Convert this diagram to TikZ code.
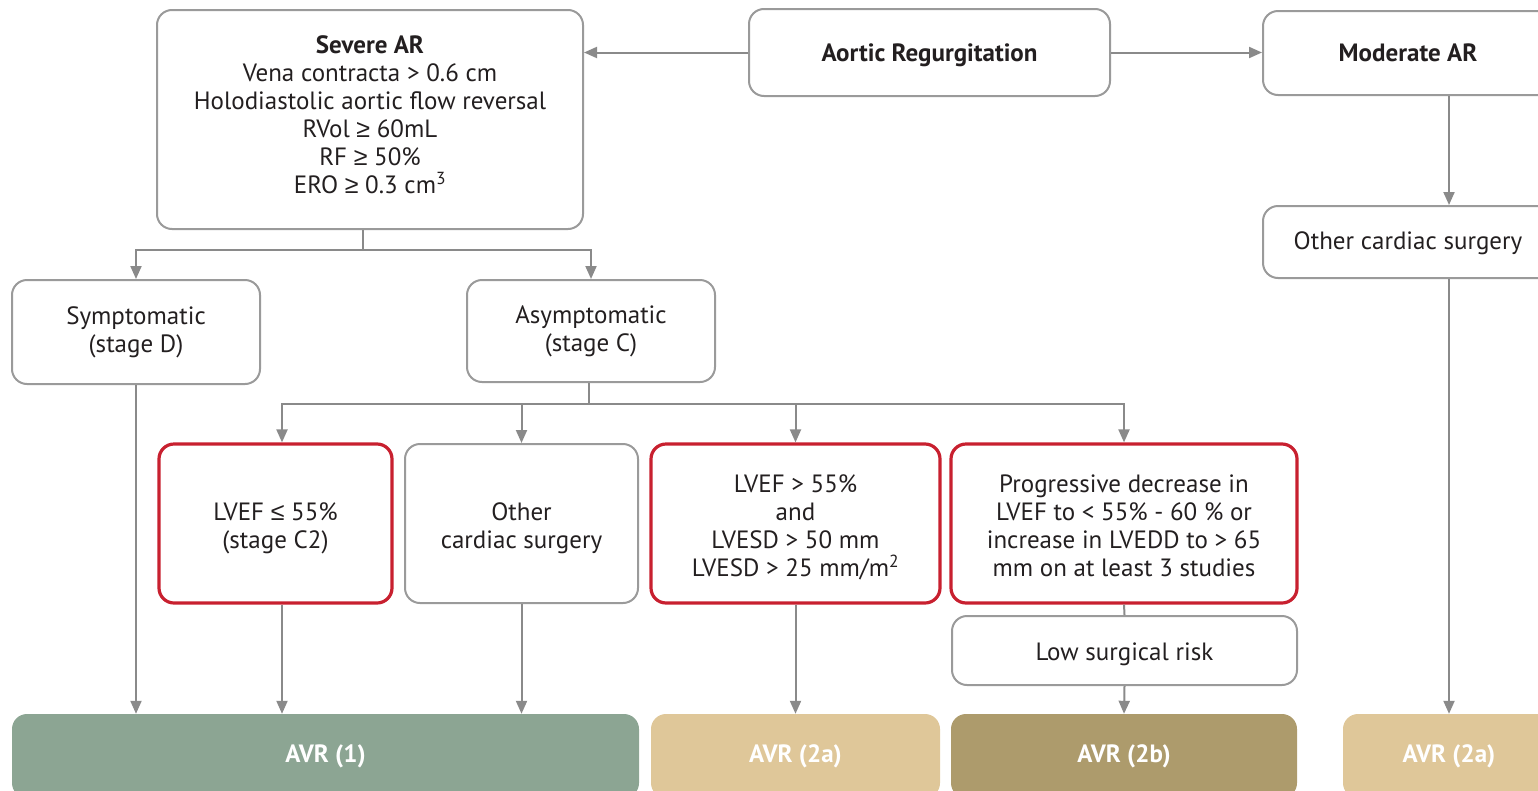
\documentclass[tikz,border=0pt]{standalone}
\usepackage{fontspec}
\setmainfont{PT Sans}
\newfontfamily\symf{Liberation Sans}
\newcommand{\mygeq}{{\symf ≥}}
\newcommand{\myleq}{{\symf ≤}}
\usetikzlibrary{arrows.meta}
\definecolor{ln}{HTML}{8A8A8A}
\definecolor{bd}{HTML}{9A9A9A}
\definecolor{rd}{HTML}{C8202F}
\definecolor{txt}{HTML}{231F20}
\definecolor{gr}{HTML}{8CA593}
\definecolor{tn}{HTML}{DFC799}
\definecolor{dt}{HTML}{AD9B6C}
\begin{document}
\begin{tikzpicture}[x=1pt,y=-1pt,
  box/.style={draw=bd, line width=2pt, rounded corners=15pt, inner sep=0pt},
  redbox/.style={box, draw=rd, line width=3.2pt},
  lbl/.style={align=center, inner sep=0pt, font=\fontsize{25}{28}\selectfont, text=txt},
  fillbox/.style={rounded corners=15pt, inner sep=0pt, text=white, font=\fontsize{25}{28}\selectfont\bfseries},
  conn/.style={draw=ln, line width=2pt},
  arr/.style={conn, -{Triangle[length=13pt,width=11pt]}}]
\useasboundingbox (0,0) rectangle (1538,790);
\clip (0,0) rectangle (1538,790);
% top row
\node[box, minimum width=426, minimum height=219] (sev) at (370,119.5) {};
\node[lbl] (sevt) at ([yshift=5]sev.center)
  {\textbf{Severe AR}\\Vena contracta > 0.6 cm\\Holodiastolic aortic flow reversal\\RVol \mygeq{} 60mL\\RF \mygeq{} 50\%\\ERO \mygeq{} 0.3 cm\textsuperscript{3}};
\node[box, minimum width=361, minimum height=87] (ar) at (929.5,52.5) {};
\node[lbl] (art) at ([yshift=-3]ar.center) {\textbf{Aortic Regurgitation}};
\node[box, minimum width=290, minimum height=84] (mod) at (1408,53) {};
\node[lbl] (modt) at (mod.center) {\textbf{Moderate AR}};
\node[box, minimum width=290, minimum height=72] (oc2) at (1408,242) {};
\node[lbl] (oc2t) at ([yshift=-1]oc2.center) {Other cardiac surgery};
% second row
\node[box, minimum width=248, minimum height=104] (sym) at (136,332) {};
\node[lbl] (symt) at (sym.center) {Symptomatic\\(stage D)};
\node[box, minimum width=248, minimum height=102] (asy) at (591,331) {};
\node[lbl] (asyt) at (asy.center) {Asymptomatic\\(stage C)};
% third row
\node[redbox, minimum width=233, minimum height=159] (lv1) at (275.5,523.5) {};
\node[lbl] (lv1t) at ([yshift=-5]lv1.center) {LVEF \myleq{} 55\%\\(stage C2)};
\node[box, minimum width=233, minimum height=159] (oc1) at (521.5,523.5) {};
\node[lbl] (oc1t) at ([yshift=-5]oc1.center) {Other\\cardiac surgery};
\node[redbox, minimum width=289, minimum height=159] (lv2) at (795.5,523.5) {};
\node[lbl] (lv2t) at ([yshift=-4]lv2.center) {LVEF > 55\%\\and\\LVESD > 50 mm\\LVESD > 25 mm/m\textsuperscript{2}};
\node[redbox, minimum width=346, minimum height=159] (prog) at (1124,523.5) {};
\node[lbl] (progt) at ([yshift=-2]prog.center) {Progressive decrease in\\LVEF to < 55\% - 60 \% or\\increase in LVEDD to > 65\\mm on at least 3 studies};
\node[box, minimum width=345, minimum height=69] (low) at (1124.5,650.5) {};
\node[lbl] (lowt) at ([yshift=-4]low.center) {Low surgical risk};
% bottom row
\node[fillbox, fill=gr, minimum width=627, minimum height=84] (avr1) at (325.5,756) {AVR (1)};
\node[fillbox, fill=tn, minimum width=289, minimum height=84] (avr2) at (795.5,756) {AVR (2a)};
\node[fillbox, fill=dt, minimum width=346, minimum height=84] (avr3) at (1124,756) {AVR (2b)};
\node[fillbox, fill=tn, minimum width=212, minimum height=84] (avr4) at (1449,756) {AVR (2a)};
% junctions
\coordinate (j1) at (363,250);
\coordinate (j2) at (589,404);
\coordinate (c1) at (282,0);
% connectors
\draw[arr] (ar.west) -- (ar.west -| sev.east);
\draw[arr] (ar.east) -- (ar.east -| mod.west);
\draw[arr] (mod.south -| avr4.north) -- (oc2.north -| avr4.north);
\draw[arr] (oc2.south -| avr4.north) -- (avr4.north);
\draw[conn] (sev.south -| j1) -- (j1);
\draw[arr] (j1) -| (sym.north);
\draw[arr] (j1) -| (asy.north);
\draw[conn] (asy.south -| j2) -- (j2);
\draw[arr] (j2) -| (c1 |- lv1.north);
\draw[arr] (j2) -| (oc1.north);
\draw[arr] (j2) -| (lv2.north);
\draw[arr] (j2) -| (prog.north);
\draw[arr] (sym.south) -- (sym.south |- avr1.north);
\draw[arr] (c1 |- lv1.south) -- (c1 |- avr1.north);
\draw[arr] (oc1.south) -- (oc1.south |- avr1.north);
\draw[arr] (lv2.south) -- (avr2.north);
\draw[conn] (prog.south) -- (low.north);
\draw[arr] (low.south) -- (avr3.north);
\end{tikzpicture}
\end{document}
